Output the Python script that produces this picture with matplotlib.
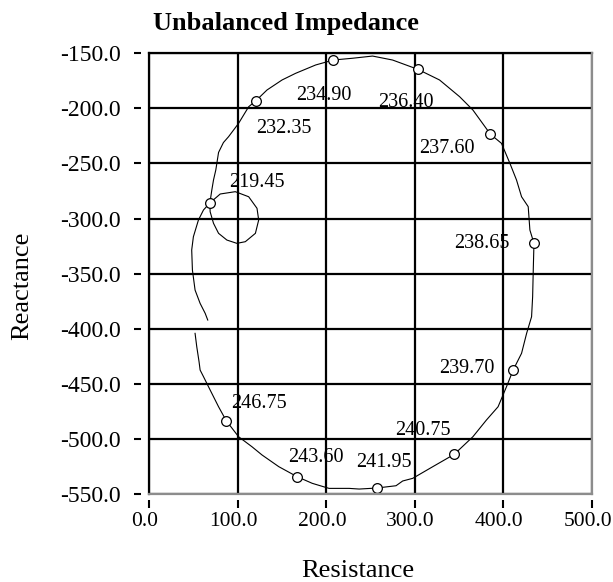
import matplotlib
matplotlib.use("Agg")
import matplotlib.pyplot as plt
from matplotlib.lines import Line2D
from matplotlib.transforms import ScaledTranslation

plt.rcParams["font.family"] = ["Liberation Serif", "DejaVu Serif"]

# impedance locus, traced in time order (resistance, reactance)
resistance = [
    66.3, 63.4, 57.7, 52.0, 49.0, 48.2, 50.1, 55.8, 61.5, 69.0,
    80.4, 97.4, 112.5, 121.9, 123.8, 120.1, 108.7, 99.2, 87.9, 78.5,
    72.8, 69.0, 68.7, 70.9, 72.8, 75.4, 78.5, 84.0, 89.8, 101.1, 112.5,
    120.7, 133.2, 150.2, 165.4, 188.1, 208.0, 229.6, 252.3, 274.9, 303.3,
    327.9, 350.6, 365.6, 385.4, 397.8, 407.3, 414.8, 420.5, 428.0, 429.9,
    434.5, 433.7, 433.0, 431.8, 426.2, 420.5, 411.0, 403.5, 394.0, 380.8,
    365.6, 344.5, 320.3, 297.6, 286.3, 278.8, 256.8, 237.2, 225.9, 203.2,
    184.2, 167.2, 146.5, 127.6, 116.2, 101.1, 87.2, 78.5, 69.0, 61.5,
    57.7, 56.5, 53.9, 52.0,
]
reactance = [
    -392.1, -386.0, -377.0, -364.9, -346.7, -328.5, -316.5, -301.3, -292.2, -285.6,
    -277.7, -275.6, -280.2, -290.7, -301.3, -313.4, -321.0, -322.5, -319.5, -313.4,
    -304.3, -293.8, -286.0, -274.1, -265.0, -255.9, -240.0, -231.0, -225.7, -213.6, -198.5,
    -193.0, -183.3, -174.2, -168.2, -160.6, -156.1, -154.5, -152.5, -156.1, -164.5,
    -174.2, -189.4, -201.5, -223.5, -231.7, -249.8, -265.0, -280.2, -289.2, -310.4,
    -322.5, -346.7, -370.9, -389.1, -404.2, -422.3, -437.5, -452.6, -470.8, -482.9,
    -498.0, -514.0, -525.2, -535.8, -538.2, -542.5, -544.6, -545.5, -544.9, -544.9,
    -540.3, -534.3, -525.2, -514.6, -507.1, -498.0, -483.5, -470.8, -455.6, -443.5,
    -437.5, -430.0, -416.3, -404.2,
]

# time stamps marked on the locus
mark_times = ["219.45", "232.35", "234.90", "236.40", "237.60", "238.65",
              "239.70", "240.75", "241.95", "243.60", "246.75"]
mark_r = [69.0, 120.7, 208.0, 303.3, 385.4, 434.5, 411.0, 344.5, 256.8, 167.2, 87.2]
mark_x = [-285.6, -193.0, -156.1, -164.5, -223.5, -322.5, -437.5, -514.0, -544.6, -534.3, -483.5]

# label offsets from each marker, in points (text baseline)
label_offsets = [(33.6, 11.5), (19.9, -23.5), (-6.7, -28.8), (-8.4, -26.9),
                 (-31.7, -13.7), (-37.7, -3.6), (-33.6, -2.4), (-22.6, 13.9),
                 (5.5, 15.4), (13.2, 10.8), (23.3, 8.9)]

xticks = [0, 100, 200, 300, 400, 500]
yticks = [-550, -500, -450, -400, -350, -300, -250, -200, -150]

fig = plt.figure(figsize=(6.13, 5.82), dpi=100)
ax = fig.add_axes([149 / 613, 1 - 494 / 582, 443 / 613, 440.7 / 582])

ax.set_xlim(0, 500)
ax.set_ylim(-550, -150)
ax.set_xticks(xticks)
ax.set_yticks(yticks)
ax.set_xticklabels([f"{v:.1f}" for v in xticks])
ax.set_yticklabels([f"{v:.1f}" for v in yticks])

ax.grid(True, color="black", linewidth=1.6)
ax.set_axisbelow(True)

ax.plot(resistance, reactance, color="black", linewidth=0.8, zorder=3)
ax.plot(mark_r, mark_x, linestyle="none", marker="o", markersize=7,
        markerfacecolor="white", markeredgecolor="black", markeredgewidth=0.9, zorder=4)

for t, r, x, (dx, dy) in zip(mark_times, mark_r, mark_x, label_offsets):
    ax.annotate(t, (r, x), xytext=(dx, dy), textcoords="offset points",
                ha="center", va="baseline", fontsize=14.5, zorder=5)

# axis lines with ticks sit a little away from the frame
ax.spines["left"].set_position(("outward", 6))
ax.spines["bottom"].set_position(("outward", 4))
ax.spines["left"].set_color("none")
ax.spines["bottom"].set_color("none")
ax.spines["top"].set_visible(False)
ax.spines["right"].set_visible(False)
ax.tick_params(axis="y", length=4.7, width=1.5, pad=9.5, labelsize=17)
ax.tick_params(axis="x", length=6, width=1.5, pad=3, labelsize=15.5)

# x tick labels sit slightly left of their ticks
shift = ScaledTranslation(-3 / 72, 0, fig.dpi_scale_trans)
for lbl in ax.get_xticklabels():
    lbl.set_transform(lbl.get_transform() + shift)

# frame: black on left/top, grey on right/bottom
frame = [([0, 0], [0, 1], "black"), ([0, 1], [1, 1], "black"),
         ([1, 1], [0, 1], "#8c8c8c"), ([0, 1], [0, 0], "#8c8c8c")]
for xs, ys, c in frame:
    ax.add_line(Line2D(xs, ys, transform=ax.transAxes, color=c,
                       linewidth=1.6, clip_on=False, zorder=6))

fig.text(153 / 613, 1 - 30 / 582, "Unbalanced Impedance", fontsize=19,
         fontweight="bold", ha="left", va="baseline")
fig.text(358 / 613, 1 - 577 / 582, "Resistance", fontsize=19, ha="center", va="baseline")
fig.text(22 / 613, 1 - 286 / 582, "Reactance", fontsize=19, rotation=90,
         ha="center", va="center")

fig.savefig("out.png", dpi=100)
